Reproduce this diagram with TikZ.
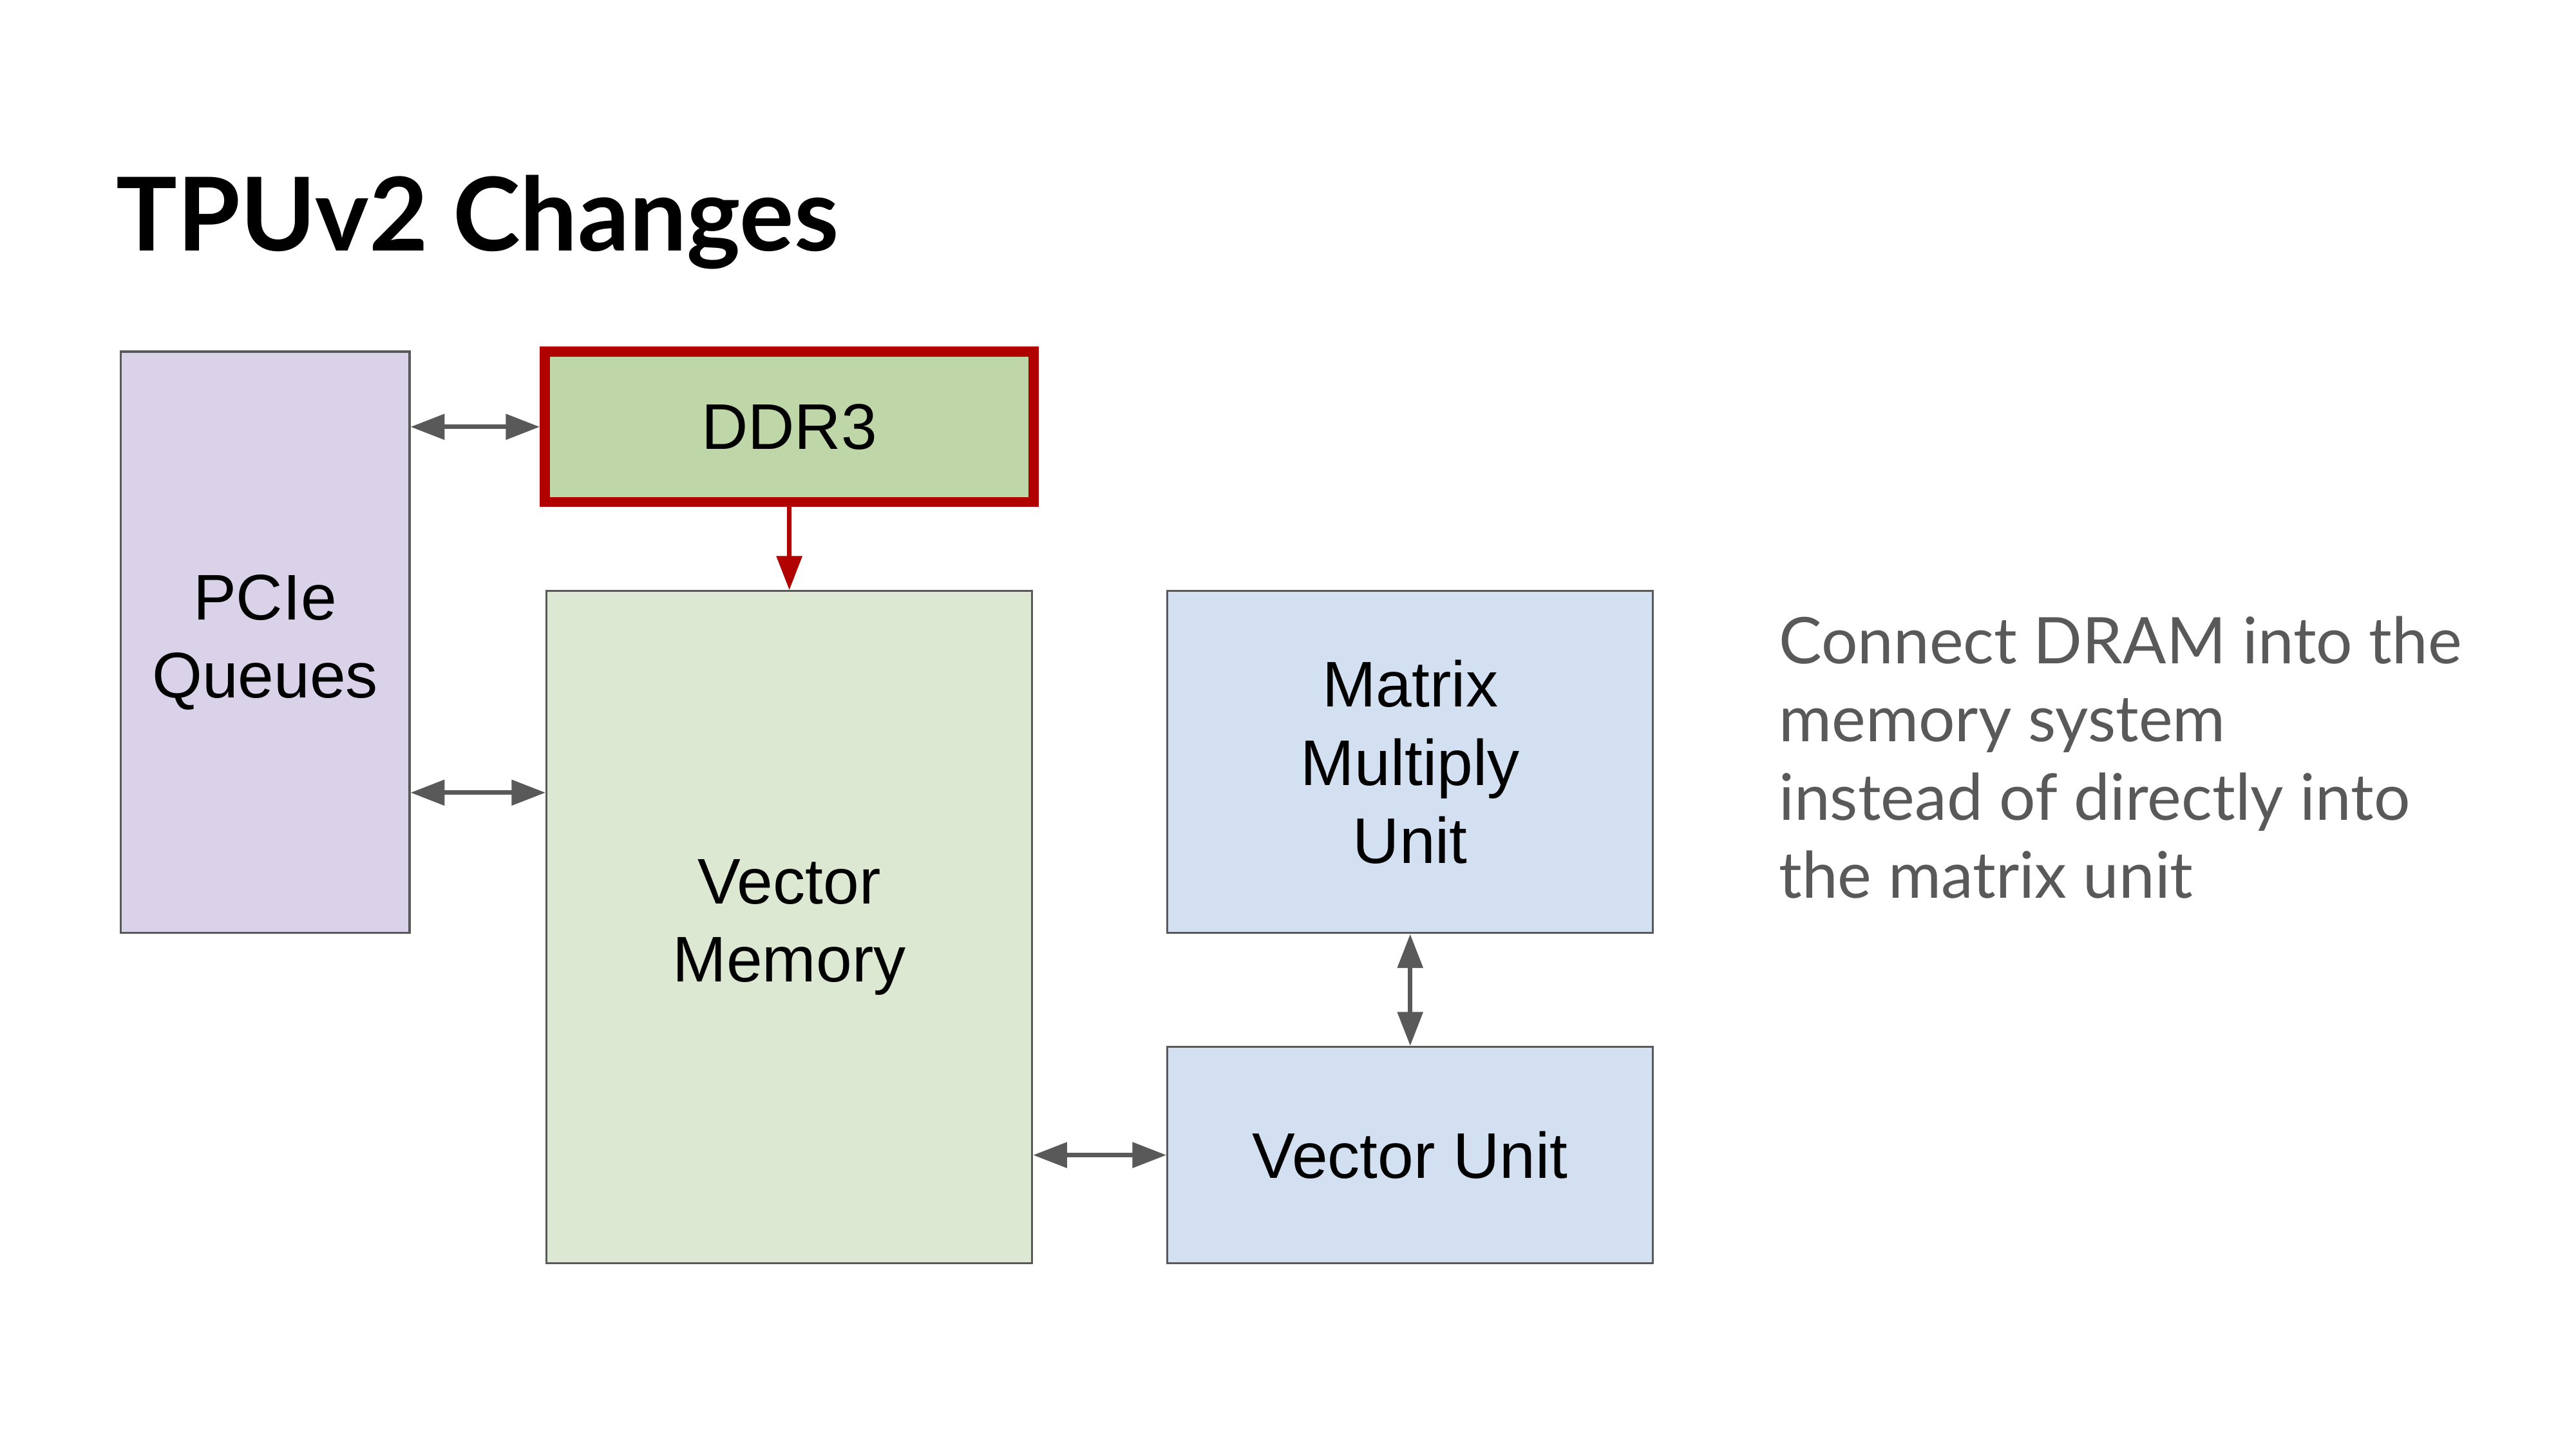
\documentclass[tikz,border=0pt]{standalone}
\usepackage{fontspec}
\setmainfont{Liberation Sans}
\newfontfamily\slidefont{Lato}
\usetikzlibrary{arrows.meta}
\definecolor{edgegrey}{HTML}{595959}
\definecolor{pciefill}{HTML}{D9D2E9}
\definecolor{ddrfill}{HTML}{BFD6A8}
\definecolor{memfill}{HTML}{DDE8D3}
\definecolor{unitfill}{HTML}{D3E0F1}
\definecolor{ddrred}{HTML}{B00000}
\begin{document}
\begin{tikzpicture}[x=0.025641cm, y=-0.025641cm,
    block/.style = {draw=edgegrey, line width=0.9pt, inner sep=0pt, align=center,
                    font=\fontsize{28.5}{34.5}\selectfont},
    biarrow/.style = {edgegrey, line width=2pt,
                      {Triangle[length=15pt, width=11pt]}-{Triangle[length=15pt, width=11pt]}}]
    \useasboundingbox (0,0) rectangle (1560,877.5);

    \node[anchor=base west, inner sep=0pt, font=\slidefont\bfseries\fontsize{45}{54}\selectfont]
        (title) at (70,152) {TPUv2 Changes};

    \node[block, fill=pciefill, minimum width=4.487cm, minimum height=9.026cm]
        (pcie) at (160.5,389) {PCIe\\Queues};
    \node[block, fill=ddrfill, draw=ddrred, line width=4.5pt, minimum width=7.59cm, minimum height=2.333cm]
        (ddr) at (478,258.5) {DDR3};
    \node[block, fill=memfill, minimum width=7.538cm, minimum height=10.436cm]
        (vmem) at (478,561.5) {Vector\\Memory};
    \node[block, fill=unitfill, minimum width=7.538cm, minimum height=5.308cm]
        (mmu) at (854,461.5) {Matrix\\Multiply\\Unit};
    \node[block, fill=unitfill, minimum width=7.538cm, minimum height=3.359cm]
        (vunit) at (854,699.5) {Vector Unit};

    \node[anchor=north west, inner sep=0pt, align=left, text=edgegrey,
          font=\slidefont\fontsize{28.4}{34.5}\selectfont]
        (note) at (1077,373) {Connect DRAM into the\\memory system\\instead of directly into\\the matrix unit};

    \coordinate (pcielow) at ([yshift=-2.333cm]pcie.east);
    \draw[biarrow] (pcie.east |- ddr.west) -- (ddr.west);
    \draw[biarrow] (pcielow) -- (pcielow -| vmem.west);
    \draw[ddrred, line width=2pt, -{Triangle[length=15pt, width=11pt]}] (ddr.south) -- (vmem.north);
    \draw[biarrow] (mmu.south) -- (vunit.north);
    \draw[biarrow] (vmem.east |- vunit.west) -- (vunit.west);
\end{tikzpicture}
\end{document}
